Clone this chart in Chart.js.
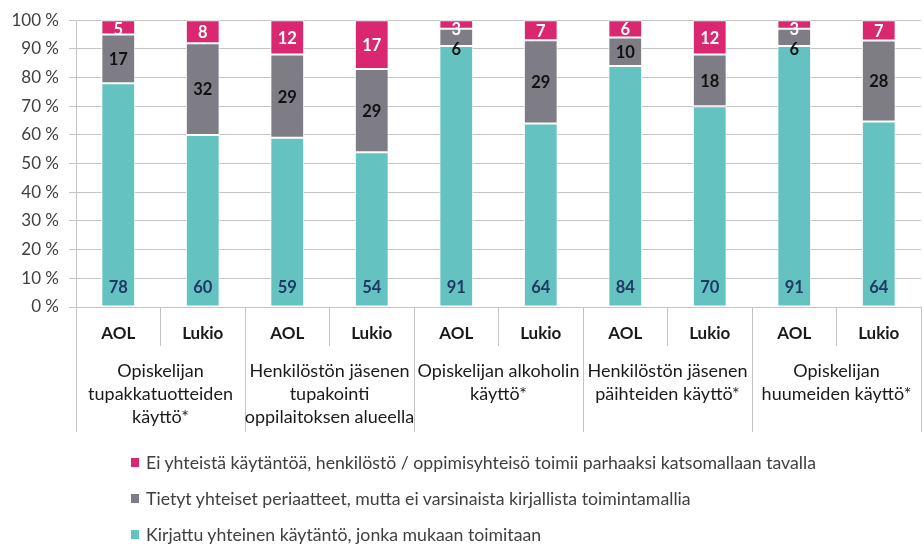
<!DOCTYPE html>
<html><head><meta charset="utf-8">
<script src="https://cdn.jsdelivr.net/npm/chart.js@4/dist/chart.umd.min.js"></script>
<style>
html,body{margin:0;padding:0;background:#fff;}
#wrap{position:relative;width:924px;height:546px;overflow:hidden;}
#legend{position:absolute;left:131px;top:444px;font-family:Lato,sans-serif;font-size:17.7px;color:#404040;}
.li{display:flex;align-items:center;height:36px;white-space:nowrap;}
.sw{width:8px;height:9px;margin-right:7px;flex:none;}
</style></head><body>
<div id="wrap"><canvas id="c" width="924" height="546"></canvas><div id="legend"></div></div>
<script>
// ---- data ----
const categories = ['AOL','Lukio','AOL','Lukio','AOL','Lukio','AOL','Lukio','AOL','Lukio'];
const groupLabels = [
  ['Opiskelijan','tupakkatuotteiden','käyttö*'],
  ['Henkilöstön jäsenen','tupakointi','oppilaitoksen alueella'],
  ['Opiskelijan alkoholin','käyttö*'],
  ['Henkilöstön jäsenen','päihteiden käyttö*'],
  ['Opiskelijan','huumeiden käyttö*']
];
const kirjattu   = [78,60,59,54,91,64,84,70,91,64];
const tietyt     = [17,32,29,29, 6,29,10,18, 6,28];
const eiYhteista = [ 5, 8,12,17, 3, 7, 6,12, 3, 7];
const seriesNames = [
  'Kirjattu yhteinen käytäntö, jonka mukaan toimitaan',
  'Tietyt yhteiset periaatteet, mutta ei varsinaista kirjallista toimintamallia',
  'Ei yhteistä käytäntöä, henkilöstö / oppimisyhteisö toimii parhaaksi katsomallaan tavalla'
];
const yTickValues = [0,10,20,30,40,50,60,70,80,90,100];

// 100 % stacked: each column normalised to its total
const totals = categories.map((_, i) => kirjattu[i] + tietyt[i] + eiYhteista[i]);
const pct = arr => arr.map((v, i) => v / totals[i] * 100);

const FONT = 'Lato, "Liberation Sans", sans-serif';
const GRID = '#C4C4C4';

const labelPlugin = {
  id: 'segLabels',
  afterDatasetsDraw(chart) {
    const ctx = chart.ctx, area = chart.chartArea;
    const dsets = chart.data.datasets;
    ctx.save();
    ctx.font = 'bold 16.5px ' + FONT;
    ctx.textAlign = 'center';
    ctx.textBaseline = 'middle';
    for (let i = 0; i < categories.length; i++) {
      let prevY = -Infinity;
      for (let d = dsets.length - 1; d >= 0; d--) {
        const ds = dsets[d];
        const el = chart.getDatasetMeta(d).data[i];
        let y;
        if (ds.labelPos === 'base') y = el.base - 20;
        else y = (el.y + el.base) / 2;
        y = Math.max(y, area.top + 8, prevY + 20);
        prevY = y;
        ctx.fillStyle = ds.labelColor;
        ctx.fillText(String(ds.raw[i]), el.x, y + 1);
      }
    }
    ctx.restore();
  }
};

const chart = new Chart(document.getElementById('c'), {
  type: 'bar',
  data: {
    labels: categories,
    datasets: [
      { label: seriesNames[0], data: pct(kirjattu), raw: kirjattu, backgroundColor: '#64C3C0', labelColor: '#1F3864', labelPos: 'base' },
      { label: seriesNames[1], data: pct(tietyt), raw: tietyt, backgroundColor: '#7E7D85', labelColor: '#111111', labelPos: 'center' },
      { label: seriesNames[2], data: pct(eiYhteista), raw: eiYhteista, backgroundColor: '#D9286F', labelColor: '#FFFFFF', labelPos: 'center' }
    ].map(d => Object.assign(d, { borderColor: '#FFFFFF', borderWidth: 1, borderSkipped: false, barPercentage: 0.40, categoryPercentage: 1.0 }))
  },
  options: {
    responsive: false,
    animation: false,
    layout: { padding: { top: 19, right: 3, bottom: 114, left: 0 } },
    plugins: { legend: { display: false }, tooltip: { enabled: false } },
    scales: {
      y: {
        stacked: true, min: 0, max: 100,
        afterBuildTicks(s) { s.ticks = yTickValues.map(v => ({ value: v })); },
        ticks: { callback: v => v + ' %', color: '#404040', font: { family: FONT, size: 17 }, padding: 10 },
        grid: { color: GRID, tickLength: 7 },
        border: { color: GRID },
        afterFit(s) { s.width = 76; }
      },
      x: {
        stacked: true, weight: 0,
        grid: { offset: true, drawOnChartArea: false, drawTicks: true, tickLength: 39, color: GRID },
        border: { display: true, color: GRID },
        ticks: { padding: -23, color: '#1a1a1a', font: { family: FONT, size: 17, weight: 'bold' }, maxRotation: 0, autoSkip: false },
        afterFit(s) { s.height = 39; }
      },
      x2: {
        type: 'category', labels: groupLabels, position: 'bottom', weight: 1, offset: true,
        grid: { offset: true, drawOnChartArea: false, drawTicks: true, tickLength: 86, color: GRID },
        border: { display: false },
        ticks: { padding: -72, color: '#1a1a1a', font: { family: FONT, size: 18, lineHeight: 1.28 }, maxRotation: 0, autoSkip: false },
        afterFit(s) { s.height = 86; }
      }
    }
  },
  plugins: [labelPlugin]
});

// legend (series in reverse order, as in the original)
const leg = document.getElementById('legend');
chart.data.datasets.slice().reverse().forEach(ds => {
  const row = document.createElement('div'); row.className = 'li';
  const sw = document.createElement('span'); sw.className = 'sw'; sw.style.background = ds.backgroundColor;
  const tx = document.createElement('span'); tx.textContent = ds.label;
  row.appendChild(sw); row.appendChild(tx); leg.appendChild(row);
});
</script>
</body></html>
